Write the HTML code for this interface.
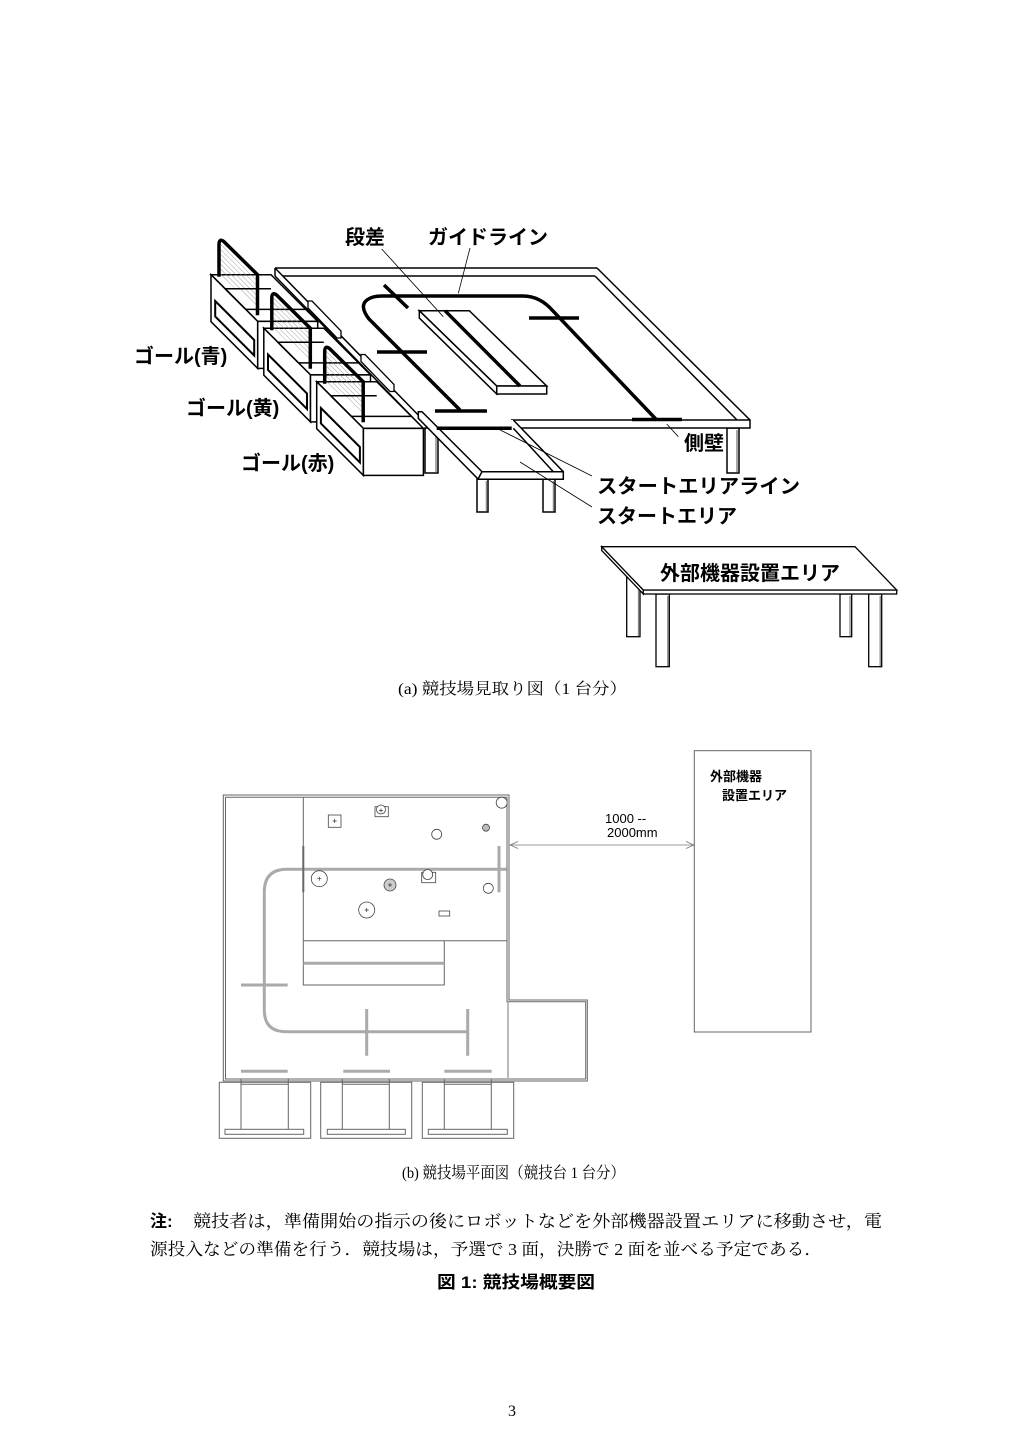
<!DOCTYPE html>
<html><head><meta charset="utf-8"><style>
html,body{margin:0;padding:0;background:#fff;}
svg{display:block;}
.sans{font-family:"Liberation Sans","Noto Sans CJK JP",sans-serif;font-weight:bold;}
.sansn{font-family:"Liberation Sans","Noto Sans CJK JP",sans-serif;}
.serif{font-family:"Liberation Serif","Noto Serif CJK SC",serif;}
</style></head><body>
<svg width="1024" height="1447" viewBox="0 0 1024 1447" xmlns="http://www.w3.org/2000/svg">
<defs>
<pattern id="hatch" width="3.5" height="3.5" patternUnits="userSpaceOnUse" patternTransform="rotate(-45)">
<line x1="0" y1="0" x2="0" y2="3.5" stroke="#8a8a8a" stroke-width="0.8"/>
</pattern>
<g id="goal" stroke="#000" stroke-width="1.5" fill="#fff">
<polygon points="0,0 60,0 106.7,46.7 46.7,46.7"/>
<polygon points="0,0 46.7,46.7 46.7,93.7 0,47"/>
<rect x="46.7" y="46.7" width="60" height="47"/>
<polygon points="9,-33 45.5,1 45.5,33 9,0" fill="url(#hatch)" stroke="none"/>
<path d="M14,14 H60 M14,14 L34.7,34.7 H94.7" fill="none"/>
<polygon points="4.2,26.3 43.2,65.3 43.2,80.8 4.2,41.8" stroke-width="2"/>
<path d="M8,2 V-30 Q8,-37 13,-33 L46.5,0 V40.6" fill="none" stroke-width="3.5"/>
</g>
<g id="leg" stroke="#000" stroke-width="1.2" fill="#fff">
</g>
</defs>

<!-- ============ TOP ISOMETRIC DIAGRAM ============ -->
<g stroke="#000" fill="none" stroke-width="1.5">
<!-- legs of main field -->
<rect x="425" y="428" width="13" height="45" fill="#fff"/>
<line x1="436" y1="430" x2="436" y2="472" stroke="#888"/>
<rect x="727" y="428" width="12" height="45" fill="#fff"/>
<line x1="737" y1="430" x2="737" y2="472" stroke="#888"/>
<!-- start area legs -->
<rect x="477" y="479" width="11" height="33" fill="#fff"/>
<line x1="486.5" y1="481" x2="486.5" y2="511" stroke="#888"/>
<rect x="543" y="479" width="12" height="33" fill="#fff"/>
<line x1="553.5" y1="481" x2="553.5" y2="511" stroke="#888"/>

<!-- back wall -->
<path d="M275,268 H597 M283,276 H595 M275,268 V276"/>
<!-- left wall -->
<path d="M275,268 L424,421 M275,276 L420,425"/>
<!-- right wall -->
<path d="M597,268 L750,420 M595,276 L737,420"/>
<!-- front edge -->
<path d="M511.7,420 H750 V428 H511.7 Z" fill="#fff"/>
<!-- start area -->
<polygon points="422,420 513.3,420 563.3,472 478,472" fill="#fff" stroke="none"/>
<path d="M513.3,420 L563.3,471.7 M513.3,428.3 L553.3,471.7"/>
<path d="M478,471.7 H563.3 V479.3 H478 Z" fill="#fff"/>
<polygon points="418.3,411.7 422,411.7 482,471.7 478,479 418.3,418.3" fill="#fff"/>
<path d="M436.7,428.3 H511.7" stroke-width="3.5"/>

<!-- step slab -->
<polygon points="419.3,310.7 469.3,310.7 546.7,386 496.7,386" fill="#fff"/>
<polygon points="496.7,386 546.7,386 546.7,394 496.7,394" fill="#fff"/>
<polygon points="419.3,310.7 496.7,386 496.7,394 419.3,318" fill="#fff"/>
<path d="M445,310.7 L520,386" stroke-width="3.5"/>

<!-- guide line -->
<path d="M460,410 L369,319 Q359,306 367,300 Q372,296 382,296 L523,296 Q540,296 553,311 L656.7,420" stroke-width="3.5"/>
<!-- ticks -->
<path d="M384,285 L408,308 M377,352 H427 M435,411 H487 M529,318 H579 M632,419.5 H682" stroke-width="3.5"/>
</g>

<!-- goals -->
<use href="#goal" x="211" y="274.7"/>
<polygon points="308,301 312,301 341,331 341,338 337,338 308,308" fill="#fff" stroke="#000" stroke-width="1.3"/>
<use href="#goal" x="263.8" y="328.2"/>
<polygon points="361,354.5 365,354.5 394,384.5 394,391.5 390,391.5 361,361.5" fill="#fff" stroke="#000" stroke-width="1.3"/>
<use href="#goal" x="316.7" y="381.7"/>

<!-- leader lines -->
<g stroke="#000" stroke-width="0.8" fill="none">
<path d="M381.7,249 L443.3,316.7"/>
<path d="M470,248 L458.3,293.3"/>
<path d="M666.7,424 L678.3,436.7"/>
<path d="M498.3,429 L592,476"/>
<path d="M520,462 L592,507"/>
</g>

<!-- labels -->
<g class="sans" font-size="20" fill="#000">
<text x="345" y="244">段差</text>
<text x="428" y="244" textLength="120" lengthAdjust="spacingAndGlyphs">ガイドライン</text>
<text x="134" y="363">ゴール(青)</text>
<text x="186" y="415">ゴール(黄)</text>
<text x="241" y="470">ゴール(赤)</text>
<text x="684" y="450">側壁</text>
<text x="597" y="493" textLength="203" lengthAdjust="spacingAndGlyphs">スタートエリアライン</text>
<text x="597" y="523" textLength="140" lengthAdjust="spacingAndGlyphs">スタートエリア</text>
</g>

<!-- external table -->
<g stroke="#000" stroke-width="1.3" fill="#fff">
<rect x="626.7" y="575" width="13.3" height="61.7"/>
<line x1="638.5" y1="590" x2="638.5" y2="636" stroke="#888"/>
<rect x="840" y="594" width="11.7" height="42.7"/>
<line x1="850" y1="596" x2="850" y2="636" stroke="#888"/>
<rect x="656" y="594" width="13.3" height="72.7"/>
<line x1="667.8" y1="596" x2="667.8" y2="666" stroke="#888"/>
<rect x="868.7" y="594" width="13" height="72.7"/>
<line x1="880.2" y1="596" x2="880.2" y2="666" stroke="#888"/>
<polygon points="601.7,546.7 601.7,550.5 643.3,594 643.3,590"/>
<rect x="643.3" y="590" width="253.4" height="4"/>
<polygon points="601.7,546.7 855,546.7 896.7,590 643.3,590"/>
</g>
<text class="sans" x="660" y="580" font-size="20" textLength="180" lengthAdjust="spacingAndGlyphs">外部機器設置エリア</text>

<!-- caption a -->
<text class="serif" x="398" y="694" font-size="16" textLength="229" lengthAdjust="spacingAndGlyphs">(a) 競技場見取り図（1 台分）</text>

<!-- ============ PLAN VIEW ============ -->
<g fill="none" stroke="#666" stroke-width="1">
<path d="M223.3,795 H509 V1000 H587.3 V1081 H223.3 Z"/>
<path d="M225.5,797.3 H507 V1001.7 H585.7 V1079 H225.5 Z"/>
<path d="M303.3,797.3 V985 H444.3 V940.7 M303.3,940.7 H507"/>
<!-- goals -->
<rect x="219.3" y="1082.3" width="91.4" height="56"/>
<path d="M241,1079 V1129.3 M288.3,1079 V1129.3 M241,1084.3 H288.3"/>
<rect x="225" y="1129.3" width="78.7" height="5"/>
<rect x="320.7" y="1082.3" width="91" height="56"/>
<path d="M342.3,1079 V1129.3 M389.3,1079 V1129.3 M342.3,1084.3 H389.3"/>
<rect x="327.3" y="1129.3" width="78" height="5"/>
<rect x="422.3" y="1082.3" width="91.4" height="56"/>
<path d="M444.3,1079 V1129.3 M491.3,1079 V1129.3 M444.3,1084.3 H491.3"/>
<rect x="428.3" y="1129.3" width="79" height="5"/>
<!-- external area -->
<rect x="694.3" y="750.7" width="116.7" height="281.3"/>
</g>
<!-- gray guide lines -->
<g fill="none" stroke="#aaa" stroke-width="3">
<path d="M506.7,869.3 H287 Q264.3,869.3 264.3,892 V1010 Q264.3,1031.7 286,1031.7 H466.7"/>
<path d="M303.3,963.3 H444.3"/>
<path d="M499,846 V892.3"/>
<path d="M241,985 H287.7"/>
<path d="M366.7,1009 V1055.7 M467.7,1009 V1055.7"/>
<path d="M241,1071.3 H287.7 M343.3,1071.3 H390 M444.3,1071.3 H491.7"/>
<path d="M508,1002 V1079" stroke="#bbb" stroke-width="2"/>
</g>
<path d="M303.3,846 V892.3" stroke="#666" stroke-width="2"/>
<!-- objects -->
<g fill="#fff" stroke="#444" stroke-width="0.8">
<rect x="328.3" y="815" width="12.7" height="12.3"/>
<rect x="375" y="806.7" width="13.3" height="10"/>
<circle cx="381" cy="809.5" r="4.5"/>
<circle cx="436.7" cy="834.3" r="5"/>
<circle cx="486" cy="827.7" r="3.5" fill="#bbb"/>
<circle cx="501.7" cy="802.7" r="5.5"/>
<circle cx="319.3" cy="878.7" r="8"/>
<circle cx="390" cy="885" r="6" fill="#ccc"/>
<rect x="421.7" y="872.3" width="14" height="10.4"/>
<circle cx="427.7" cy="874.5" r="5"/>
<circle cx="488.3" cy="888.3" r="5"/>
<circle cx="366.7" cy="910" r="8"/>
<rect x="439" y="911" width="10.7" height="5"/>
</g>
<g stroke="#333" stroke-width="0.7">
<path d="M332.7,821 H336.7 M334.7,819 V823"/>
<path d="M379,810.5 H383 M381,808.5 V812.5"/>
<path d="M317.3,878.7 H321.3 M319.3,876.7 V880.7"/>
<path d="M388,885 H392 M390,883 V887"/>
<path d="M364.7,910 H368.7 M366.7,908 V912"/>
</g>
<!-- dimension -->
<g stroke="#777" stroke-width="0.8" fill="none">
<path d="M510,845 H694"/>
<path d="M518,841.5 L510,845 L518,848.5 M686,841.5 L694,845 L686,848.5"/>
</g>
<text class="sansn" x="605" y="823" font-size="13">1000 --</text>
<text class="sansn" x="607" y="837" font-size="13">2000mm</text>
<text class="sans" x="710" y="781" font-size="13">外部機器</text>
<text class="sans" x="722" y="800" font-size="13">設置エリア</text>

<!-- caption b -->
<text class="serif" x="402" y="1178" font-size="16" textLength="223" lengthAdjust="spacingAndGlyphs">(b) 競技場平面図（競技台 1 台分）</text>

<!-- note -->
<text class="sans" x="150" y="1227" font-size="17">注:</text>
<text class="serif" x="193" y="1227" font-size="17" textLength="689" lengthAdjust="spacingAndGlyphs">競技者は，準備開始の指示の後にロボットなどを外部機器設置エリアに移動させ，電</text>
<text class="serif" x="150" y="1255" font-size="17" textLength="672" lengthAdjust="spacingAndGlyphs">源投入などの準備を行う．競技場は，予選で 3 面，決勝で 2 面を並べる予定である．</text>
<text class="sans" x="437" y="1288" font-size="17" textLength="158" lengthAdjust="spacingAndGlyphs">図 1: 競技場概要図</text>

<text class="serif" x="508" y="1416" font-size="16">3</text>
</svg>
</body></html>
